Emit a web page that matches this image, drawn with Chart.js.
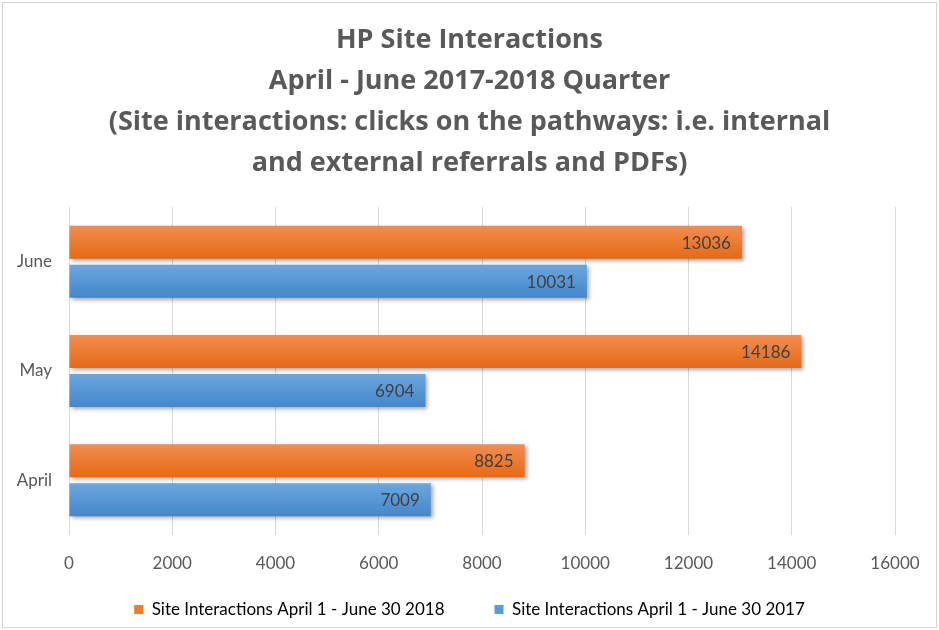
<!DOCTYPE html>
<html>
<head>
<meta charset="utf-8">
<script src="https://cdn.jsdelivr.net/npm/chart.js@4.4.0/dist/chart.umd.min.js"></script>
<style>
html,body{margin:0;padding:0;background:#fff;}
#wrap{width:939px;height:630px;position:relative;}
</style>
</head>
<body>
<div id="wrap"><canvas id="c" width="939" height="630"></canvas></div>
<script>
const months = ['June', 'May', 'April'];
const values2018 = [13036, 14186, 8825];
const values2017 = [10031, 6904, 7009];
const seriesNames = ['Site Interactions April 1 - June 30 2018', 'Site Interactions April 1 - June 30 2017'];
const titleLines = ['HP Site Interactions', 'April - June 2017-2018 Quarter', '(Site interactions: clicks on the pathways: i.e. internal', 'and external referrals and PDFs)'];
const xTicks = [0, 2000, 4000, 6000, 8000, 10000, 12000, 14000, 16000];

const FONT = 'Lato, Carlito, Calibri, "Open Sans", sans-serif';
const TFONT = '"Open Sans", Lato, sans-serif';
const grads = [['#F28D52', '#E56A15'], ['#6CA6DE', '#4487CB']];
const legendColors = ['#ED7D31', '#5B9BD5'];

function barFill(c) {
  const el = c.element;
  const pair = grads[c.datasetIndex];
  if (!el || !isFinite(el.y) || !isFinite(el.height) || !el.height) return pair[1];
  const g = c.chart.ctx.createLinearGradient(0, el.y - el.height / 2, 0, el.y + el.height / 2);
  g.addColorStop(0, pair[0]);
  g.addColorStop(1, pair[1]);
  return g;
}

const shadowPlugin = {
  id: 'shadow',
  beforeDatasetsDraw(chart) {
    const ctx = chart.ctx;
    ctx.save();
    ctx.shadowColor = 'rgba(0,0,0,0.35)';
    ctx.shadowBlur = 4;
    ctx.shadowOffsetX = 2;
    ctx.shadowOffsetY = 2;
  },
  afterDatasetsDraw(chart) {
    chart.ctx.restore();
  }
};

const labelPlugin = {
  id: 'barLabels',
  afterDatasetsDraw(chart) {
    const ctx = chart.ctx;
    ctx.save();
    ctx.font = '17px ' + FONT;
    ctx.fillStyle = '#404040';
    ctx.textAlign = 'right';
    ctx.textBaseline = 'middle';
    chart.data.datasets.forEach((ds, di) => {
      chart.getDatasetMeta(di).data.forEach((el, i) => {
        ctx.fillText(String(ds.data[i]), el.x - 11, el.y + 1);
      });
    });
    ctx.restore();
  }
};

// let the x-axis tick labels extend below the (short) axis box so they are not clipped
const axisBoxPlugin = {
  id: 'axisBox',
  afterLayout(chart) {
    const x = chart.scales.x;
    x.bottom = x.top + 45;
  }
};

const framePlugin = {
  id: 'frame',
  afterDraw(chart) {
    const ctx = chart.ctx;
    ctx.save();
    ctx.strokeStyle = '#d4d4d4';
    ctx.lineWidth = 1;
    ctx.strokeRect(2.5, 2.5, chart.width - 5, chart.height - 5);
    ctx.restore();
  }
};

const chart = new Chart(document.getElementById('c'), {
  type: 'bar',
  data: {
    labels: months,
    datasets: [
      { label: seriesNames[0], data: values2018, backgroundColor: barFill, borderWidth: 0, xAxisID: 'x', yAxisID: 'y' },
      { label: seriesNames[1], data: values2017, backgroundColor: barFill, borderWidth: 0, xAxisID: 'x', yAxisID: 'y' }
    ]
  },
  options: {
    indexAxis: 'y',
    responsive: false,
    animation: false,
    categoryPercentage: 0.714,
    barPercentage: 0.846,
    layout: { padding: { left: 0, right: 0, top: 0, bottom: 2 } },
    plugins: {
      title: {
        display: true,
        text: titleLines,
        color: '#595959',
        font: { family: TFONT, size: 27, weight: 'bold', lineHeight: 1.5185 },
        padding: { top: 20, bottom: 23 }
      },
      legend: {
        position: 'bottom',
        labels: {
          color: '#595959',
          font: { family: FONT, size: 17 },
          boxWidth: 9,
          boxHeight: 9,
          padding: 50,
          generateLabels(chart) {
            return chart.data.datasets.map((ds, i) => ({
              text: ds.label,
              fillStyle: legendColors[i],
              strokeStyle: legendColors[i],
              lineWidth: 0,
              datasetIndex: i,
              hidden: false
            }));
          }
        }
      },
      tooltip: { enabled: false }
    },
    scales: {
      x: {
        min: 0,
        max: 16000,
        afterBuildTicks(scale) { scale.ticks = xTicks.map(v => ({ value: v })); },
        afterFit(scale) { scale.height = 16; },
        grid: { color: '#d9d9d9', drawTicks: false },
        border: { display: false },
        ticks: { color: '#595959', font: { family: FONT, size: 17 }, padding: 18, callback: v => String(v) }
      },
      y: {
        position: 'left',
        afterFit(scale) { scale.width = 69; },
        grid: { display: false, drawTicks: false },
        border: { display: false },
        ticks: { color: '#595959', font: { family: FONT, size: 17 }, padding: 17 }
      },
      yr: {
        type: 'category',
        position: 'right',
        afterFit(scale) { scale.width = 44; },
        grid: { display: false, drawTicks: false },
        border: { display: false },
        ticks: { display: false }
      }
    }
  },
  plugins: [shadowPlugin, labelPlugin, axisBoxPlugin, framePlugin]
});
chart.update('none');
</script>
</body>
</html>
